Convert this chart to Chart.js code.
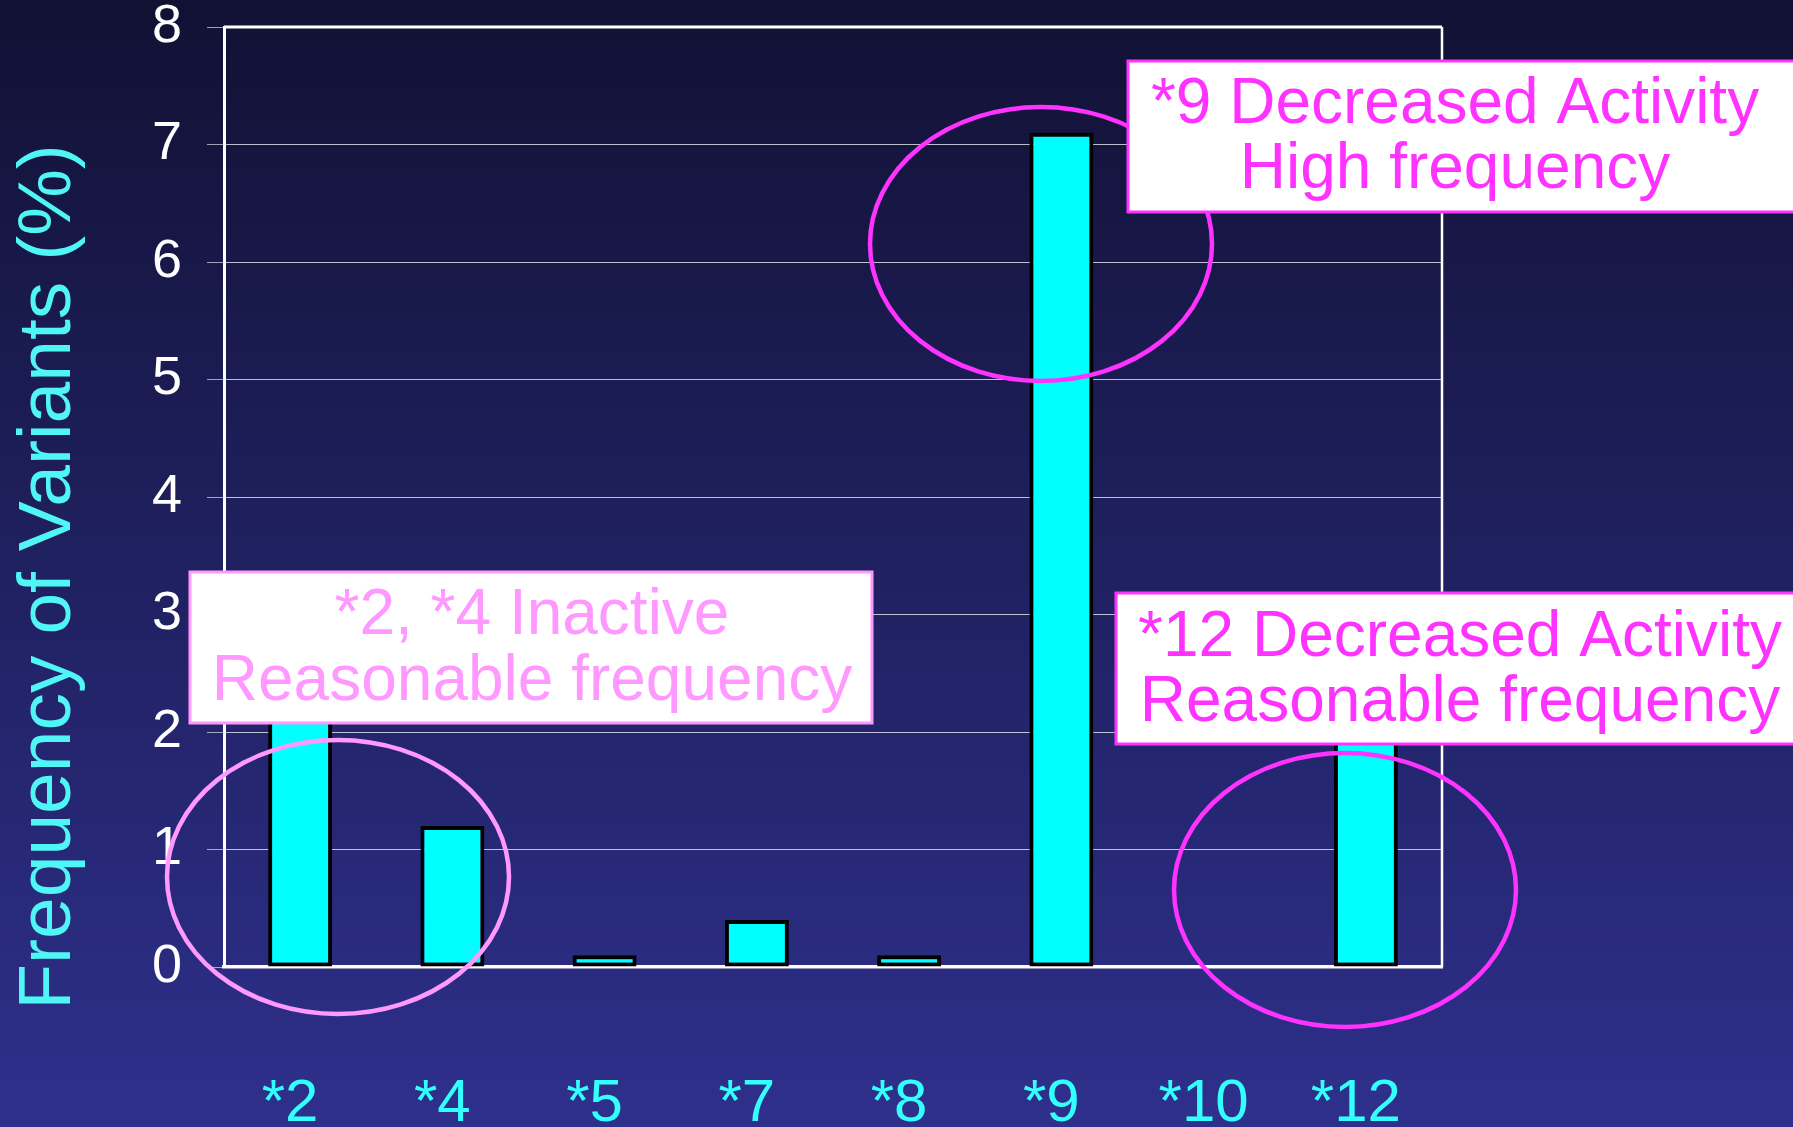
<!DOCTYPE html>
<html>
<head>
<meta charset="utf-8">
<script src="https://cdn.jsdelivr.net/npm/chart.js@4.4.1/dist/chart.umd.min.js"></script>
<style>
  html, body { margin: 0; padding: 0; background: #1f1f5c; overflow: hidden; }
  #wrap { width: 1793px; height: 1127px; position: relative; }
  canvas { display: block; }
</style>
</head>
<body>
<div id="wrap"><canvas id="c" width="1793" height="1127"></canvas></div>
<script>
// ---- data ----
const categories = ['*2', '*4', '*5', '*7', '*8', '*9', '*10', '*12'];
const frequencies = [2.9, 1.2, 0.1, 0.4, 0.1, 7.1, 0, 2.4];
const yMin = 0;
const yMax = 8;
const yStep = 1;
const yTitle = 'Frequency of Variants (%)';
const noteInactive = ['*2, *4 Inactive', 'Reasonable frequency'];
const noteNine = ['*9 Decreased Activity', 'High frequency'];
const noteTwelve = ['*12 Decreased Activity', 'Reasonable frequency'];

const FONT = '"Liberation Sans", Arial, Helvetica, sans-serif';
const CYAN_TEXT = '#50F5F5';
const PINK = '#FF99FF';
const MAGENTA = '#FF33FF';

const bgPlugin = {
  id: 'bg',
  beforeDraw(chart) {
    const {ctx, width, height} = chart;
    const g = ctx.createLinearGradient(0, 0, 0, height);
    g.addColorStop(0, '#111134');
    g.addColorStop(1, '#2e308c');
    ctx.save();
    ctx.fillStyle = g;
    ctx.fillRect(0, 0, width, height);
    ctx.restore();
  }
};

const framePlugin = {
  id: 'frame',
  afterDatasetsDraw(chart) {
    const {ctx, chartArea: a} = chart;
    ctx.save();
    ctx.strokeStyle = '#ffffff';
    ctx.lineWidth = 3;
    ctx.beginPath();
    ctx.moveTo(a.left, a.top);
    ctx.lineTo(a.right, a.top);
    ctx.stroke();
    ctx.lineWidth = 2.5;
    ctx.beginPath();
    ctx.moveTo(a.right, a.top);
    ctx.lineTo(a.right, a.bottom);
    ctx.stroke();
    ctx.restore();
  }
};

function drawEllipse(ctx, cx, cy, rx, ry, color) {
  ctx.save();
  ctx.strokeStyle = color;
  ctx.lineWidth = 4.5;
  ctx.beginPath();
  ctx.ellipse(cx, cy, rx, ry, 0, 0, Math.PI * 2);
  ctx.stroke();
  ctx.restore();
}

function drawNote(ctx, x1, y1, x2, y2, color, lines, cx, lineYs) {
  ctx.save();
  ctx.fillStyle = '#ffffff';
  ctx.fillRect(x1, y1, x2 - x1, y2 - y1);
  ctx.strokeStyle = color;
  ctx.lineWidth = 3;
  ctx.strokeRect(x1, y1, x2 - x1, y2 - y1);
  ctx.fillStyle = color;
  ctx.font = '64px ' + FONT;
  ctx.textAlign = 'center';
  ctx.textBaseline = 'middle';
  lines.forEach((t, i) => ctx.fillText(t, cx, lineYs[i]));
  ctx.restore();
}

const notesPlugin = {
  id: 'notes',
  afterDraw(chart) {
    const ctx = chart.ctx;
    // y-axis title
    ctx.save();
    ctx.translate(49, 577);
    ctx.rotate(-Math.PI / 2);
    ctx.fillStyle = CYAN_TEXT;
    ctx.font = '75px ' + FONT;
    ctx.textAlign = 'center';
    ctx.textBaseline = 'middle';
    ctx.fillText(yTitle, 0, 0);
    ctx.restore();

    drawEllipse(ctx, 338, 877, 171, 137, PINK);
    drawEllipse(ctx, 1041, 244, 171, 137, MAGENTA);
    drawEllipse(ctx, 1345, 890, 171, 137, MAGENTA);

    drawNote(ctx, 190, 572, 872, 723, PINK, noteInactive, 532, [616, 682]);
    drawNote(ctx, 1128, 61, 1810, 212, MAGENTA, noteNine, 1455, [105, 170]);
    drawNote(ctx, 1116, 593, 1810, 744, MAGENTA, noteTwelve, 1460, [638, 703]);
  }
};

new Chart(document.getElementById('c'), {
  type: 'bar',
  data: {
    labels: categories,
    datasets: [{
      data: frequencies,
      backgroundColor: '#00FFFF',
      borderColor: '#000000',
      borderWidth: 4,
      borderSkipped: false,
      barPercentage: 0.42,
      categoryPercentage: 1.0
    }]
  },
  options: {
    responsive: false,
    devicePixelRatio: 1,
    animation: false,
    events: [],
    layout: { padding: { left: 0, right: 351, top: 27, bottom: 0 } },
    plugins: {
      legend: { display: false },
      tooltip: { enabled: false },
      title: { display: false }
    },
    scales: {
      x: {
        offset: true,
        grid: { display: false, drawTicks: false },
        border: { display: true, color: '#ffffff', width: 3.5 },
        ticks: {
          color: '#33FFFF',
          font: { family: FONT, size: 60, lineHeight: 1.2 },
          padding: 101,
          labelOffset: -10,
          maxRotation: 0,
          autoSkip: false
        },
        afterFit(scale) { scale.height = 160; }
      },
      y: {
        min: yMin,
        max: yMax,
        grid: {
          color: 'rgba(255,255,255,0.72)',
          lineWidth: 1,
          drawTicks: true,
          tickLength: 17,
          tickColor: 'rgba(255,255,255,0.6)'
        },
        border: { display: true, color: '#ffffff', width: 3 },
        ticks: {
          stepSize: yStep,
          color: '#ffffff',
          font: { family: FONT, size: 54, lineHeight: 1.0 },
          padding: 25
        },
        afterFit(scale) {
          scale.width = 224;
          scale.paddingTop = 0;
          scale.paddingBottom = 0;
        }
      }
    }
  },
  plugins: [bgPlugin, framePlugin, notesPlugin]
});
</script>
</body>
</html>
